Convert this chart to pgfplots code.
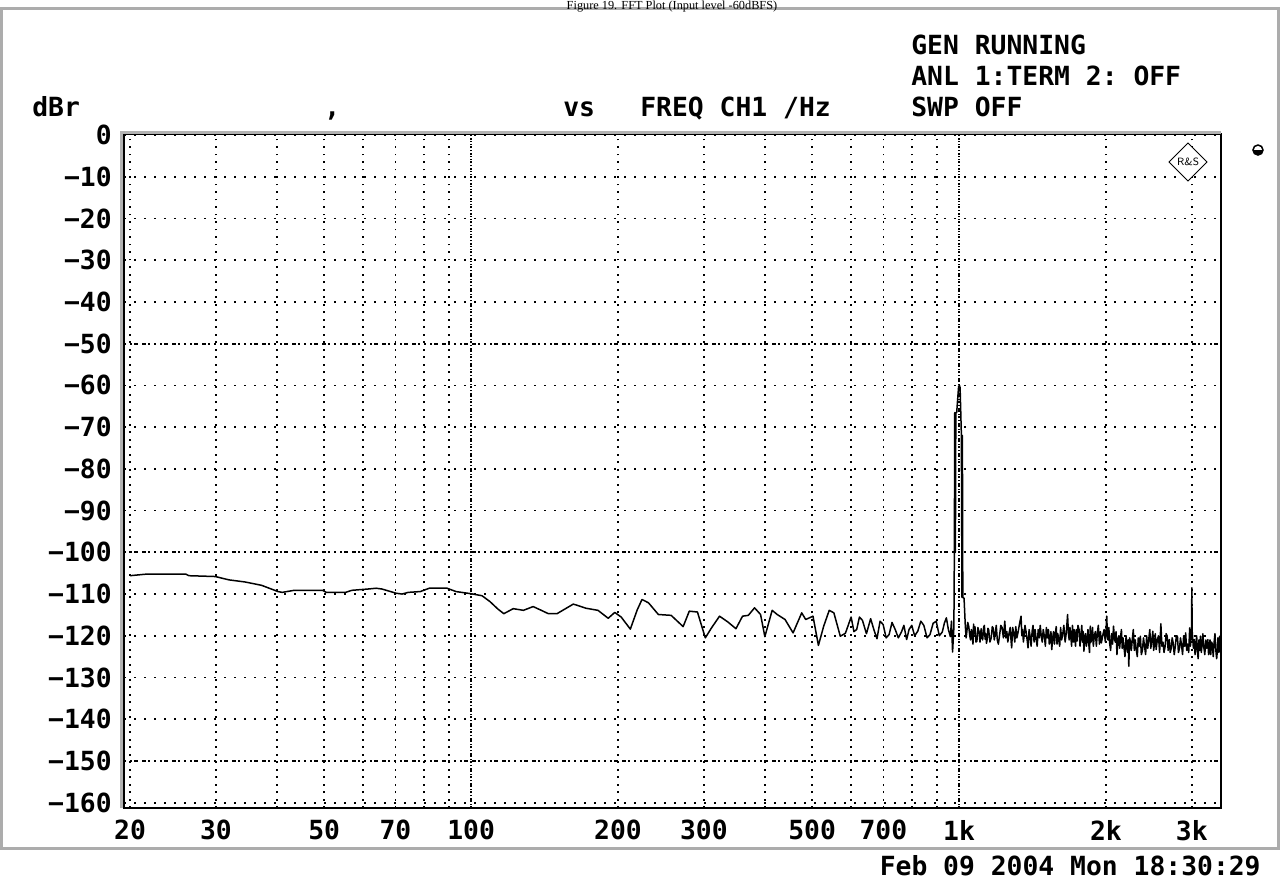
\documentclass[border=0pt]{standalone}
\usepackage{pgfplots}
\pgfplotsset{compat=1.18}
\usepackage{fontspec}
\setmonofont{DejaVu Sans Mono}
\newfontfamily\titlefont{Liberation Serif}
\newcommand\rsfont{\fontsize{15}{18}\selectfont\ttfamily\bfseries}

\begin{document}
\begin{tikzpicture}
\fill[white] (0,0) rectangle (256.6mm,176mm);

\begin{axis}[
  at={(24.8mm,14.4mm)}, anchor=south west,
  scale only axis, width=219.4mm, height=134.8mm,
  xmode=log, xmin=19.44, xmax=3443,
  ymin=-161.27, ymax=0.25,
  axis line style={line width=0.4mm},
  tick style={draw=none},
  xtick={20,30,40,50,60,70,80,90,100,200,300,400,500,600,700,800,900,1000,2000,3000},
  xticklabels={20,30,,50,,70,,,100,200,300,,500,,700,,,1k,2k,3k},
  ytick={0,-10,-20,-30,-40,-50,-60,-70,-80,-90,-100,-110,-120,-130,-140,-150,-160},
  yticklabels={0,−10,−20,−30,−40,−50,−60,−70,−80,−90,−100,−110,−120,−130,−140,−150,−160},
  minor xtick={},
  tick label style={font=\rsfont},
  xticklabel style={anchor=north, inner sep=0pt, yshift=-2.4mm},
  yticklabel style={anchor=east, inner sep=0pt, xshift=-2.4mm},
  xmajorgrids, ymajorgrids,
  x grid style={black, line width=0.35mm, dash pattern=on 0.35mm off 1.15mm},
  y grid style={black, line width=0.35mm, dash pattern=on 0.35mm off 1.65mm},
]
% denser decade / 50 dB grid lines
\draw[black, line width=0.3mm, dash pattern=on 0.3mm off 0.3mm]
  (axis cs:100,-161.27) -- (axis cs:100,0.25)
  (axis cs:1000,-161.27) -- (axis cs:1000,0.25);
\draw[black, line width=0.35mm, dash pattern=on 0.35mm off 0.85mm]
  (axis cs:19.44,-50) -- (axis cs:3443,-50)
  (axis cs:19.44,-100) -- (axis cs:3443,-100)
  (axis cs:19.44,-150) -- (axis cs:3443,-150);

\addplot[black, line width=0.3mm, line join=round] coordinates {
(20,-105.6) (21.7,-105.2) (26.0,-105.2) (26.4,-105.6) (29.9,-105.8)
(31.9,-106.6) (34.4,-107.1) (37.2,-107.9) (40.2,-109.4) (41.0,-109.6)
(43.4,-109.1) (49.6,-109.1) (50.5,-109.6) (55.3,-109.6) (57.0,-109.1)
(61.4,-108.8) (63.9,-108.6) (65.7,-108.8) (70.2,-109.8) (72.2,-110.0)
(74.3,-109.6) (78.7,-109.4) (82.1,-108.6) (89.3,-108.6) (93.1,-109.4)
(99.7,-109.9) (105.3,-110.4) (109.3,-111.8) (113.5,-113.6) (116.7,-114.7)
(122,-113.5) (128,-113.9) (134,-113.0) (138.7,-113.8) (144,-114.7)
(150,-114.7) (162,-112.4) (172,-113.4) (182,-113.9) (191,-115.8)
(197,-114.4) (203,-115.5) (212,-118.4) (219,-113.8) (224,-111.3)
(231,-112.1) (242,-114.9) (257,-115.1) (272,-117.8) (280,-114.1)
(291,-114.3) (302,-120.5) (311,-118.1) (323,-115.3) (336,-116.7)
(349,-118.3) (360,-115.3) (370,-115.1) (381,-113.3) (392,-114.9)
(400,-120.2) (414,-113.9) (424,-114.9) (440,-116.1) (457,-119.3)
(476,-114.5) (485,-116.1) (502,-115.3) (515,-122.3) (528,-117.7)
(542,-113.9) (554,-114.5) (571,-120.1) (585,-119.4) (601,-115.5)
(609,-119.0) (617,-118.5) (625,-115.5) (634,-116.3) (646,-119.5)
(659,-115.9) (669,-118.5) (679,-120.7) (689,-116.5) (699,-117.3)
(709,-120.5) (719,-119.7) (729,-116.8) (740,-118.5) (751,-120.5)
(762,-119.1) (771,-117.5) (781,-120.9) (790,-118.5) (800,-117.5)
(811,-120.0) (823,-118.9) (835,-116.5) (847,-117.5) (860,-120.5)
(872,-119.7) (885,-117.0) (898,-116.5) (911,-120.0) (924,-119.1)
(933,-117.0) (942,-115.7) (951,-118.5) (960,-120.2) (965,-116.5)
(970,-123.9) (976,-118) (978,-102) (980,-66.5) (983,-100)
(985,-66.5) (989,-66.5) (994,-63) (998,-60.3) (1002,-60)
(1005,-60.5) (1008,-66) (1011,-71.7) (1014,-110.8) (1016,-72)
(1018,-110.8) (1024,-111) (1030,-117.5)
(1034,-120.5) (1037,-119.3) (1042,-116.8) (1047,-117.8) (1052,-120.0)
(1056,-121.0) (1060,-118.5) (1064,-120.1) (1068,-122.0) (1071,-117.2)
(1075,-119.5) (1078,-117.8) (1083,-121.5) (1088,-121.3) (1093,-118.0)
(1099,-119.0) (1104,-121.5) (1110,-118.3) (1114,-120.5) (1118,-121.0)
(1123,-118.0) (1127,-117.5) (1131,-120.8) (1135,-119.5) (1138,-121.8)
(1142,-120.9) (1146,-118.2) (1150,-118.5) (1157,-121.5) (1164,-120.5)
(1170,-117.8) (1175,-118.2) (1181,-121.0) (1187,-119.3) (1192,-117.5)
(1198,-121.0) (1204,-122.0) (1210,-120.1) (1218,-117.5) (1225,-118.0)
(1233,-120.5) (1241,-116.5) (1247,-120.5) (1253,-119.0) (1259,-121.5)
(1265,-119.7) (1273,-118.0) (1278,-121.0) (1282,-122.9) (1288,-118.0)
(1295,-119.5) (1301,-121.5) (1307,-117.8) (1314,-120.5) (1322,-119.0)
(1331,-117.0) (1340,-115.3) (1345,-120.0) (1350,-118.5) (1355,-121.5)
(1359,-120.1) (1365,-117.5) (1372,-119.0) (1379,-121.0) (1385,-122.9)
(1392,-118.5) (1398,-120.0) (1405,-122.5) (1412,-118.9) (1418,-117.5)
(1425,-121.5) (1432,-118.5) (1439,-120.9) (1446,-122.5) (1453,-118.5)
(1460,-120.5) (1467,-117.5) (1474,-120.0) (1481,-121.5) (1488,-118.5)
(1496,-120.1) (1503,-122.5) (1510,-118.0) (1518,-120.5) (1525,-118.5)
(1531,-122.0) (1537,-121.0) (1543,-119.0) (1549,-123.3) (1556,-120.5)
(1562,-119.0) (1569,-122.0) (1576,-119.3) (1582,-117.8) (1588,-122.0)
(1594,-119.5) (1600,-120.9) (1608,-122.5) (1615,-118.0) (1623,-121.0)
(1631,-119.7) (1640,-117.5) (1650,-121.5) (1660,-119.0) (1669,-114.9)
(1676,-119.5) (1682,-121.0) (1688,-118.0) (1695,-120.1) (1701,-122.5)
(1708,-117.5) (1715,-121.5) (1721,-118.5) (1727,-120.5) (1733,-122.5)
(1739,-118.5) (1745,-121.3) (1753,-117.5) (1762,-118.5) (1770,-122.5)
(1779,-119.3) (1785,-117.5) (1791,-121.5) (1797,-119.0) (1803,-123.7)
(1810,-120.5) (1817,-119.5) (1824,-122.5) (1831,-120.9) (1838,-118.5)
(1845,-122.0) (1851,-124.0) (1858,-117.7) (1865,-121.5) (1871,-120.5)
(1878,-118.0) (1885,-122.5) (1894,-120.0) (1903,-119.0) (1912,-122.5)
(1921,-119.3) (1930,-117.5) (1940,-122.0) (1949,-119.0) (1958,-121.7)
(1970,-120.0) (1983,-118.5) (1995,-121.5) (2008,-115.3) (2014,-120.0)
(2020,-121.0) (2028,-118.0) (2035,-121.7) (2045,-123.5) (2054,-119.5)
(2064,-122.0) (2073,-117.7) (2082,-120.5) (2090,-121.5) (2098,-119.0)
(2107,-124.5) (2116,-121.0) (2125,-120.0) (2134,-123.0) (2144,-120.1)
(2152,-118.5) (2160,-123.0) (2168,-120.5) (2177,-122.5) (2188,-125.0)
(2200,-120.0) (2208,-122.5) (2215,-124.0) (2222,-121.0) (2228,-127.3)
(2237,-120.5) (2246,-121.5) (2255,-123.5) (2265,-120.9) (2276,-118.5)
(2287,-123.5) (2297,-121.0) (2308,-123.3) (2319,-125.0) (2330,-120.5)
(2341,-122.5) (2353,-120.1) (2364,-124.5) (2376,-123.5) (2388,-120.5)
(2400,-122.5) (2412,-124.5) (2424,-120.0) (2436,-123.0) (2448,-120.9)
(2460,-118.5) (2472,-123.0) (2484,-121.0) (2496,-118.9) (2505,-123.5)
(2515,-122.0) (2525,-119.5) (2535,-123.3) (2549,-121.0) (2563,-120.0)
(2577,-124.0) (2592,-117.1) (2605,-122.5) (2618,-121.5) (2631,-124.0)
(2645,-122.5) (2657,-119.5) (2670,-120.0) (2683,-123.5) (2697,-120.9)
(2709,-124.0) (2722,-123.0) (2734,-120.5) (2747,-121.7) (2761,-124.5)
(2775,-122.5) (2789,-120.0) (2803,-120.1) (2816,-124.0) (2830,-123.0)
(2844,-120.5) (2859,-122.5) (2872,-124.5) (2886,-120.0) (2900,-122.5)
(2914,-119.3) (2928,-123.5) (2942,-122.0) (2956,-124.0) (2970,-118.1)
(2980,-122.5) (2988,-121.0) (2995,-119.5) (3000,-108.5) (3005,-119.0)
(3010,-120.0) (3022,-123.0) (3035,-120.9) (3046,-124.5) (3058,-122.5)
(3069,-120.0) (3080,-123.7) (3091,-125.5) (3103,-121.0) (3114,-123.5)
(3125,-120.1) (3137,-124.0) (3150,-122.0) (3161,-119.5) (3173,-122.5)
(3189,-124.5) (3205,-121.0) (3220,-123.0) (3236,-120.9) (3247,-124.5)
(3258,-123.5) (3269,-121.0) (3280,-124.5) (3293,-121.5) (3306,-122.0)
(3319,-125.0) (3332,-121.7) (3346,-119.5) (3360,-123.5) (3373,-125.5)
(3386,-123.3) (3393,-120.5) (3400,-121.0) (3410,-124.0) (3420,-120.1)
(3432,-123.5) (3443,-122.5)
};
\end{axis}

\begin{scope}[x=0.2mm, y=0.2mm]
  % outer frame
  \draw[gray!65, line width=0.6mm] (2,32) rectangle (1279,871.5);
  % sunken edge of the plot box
  \draw[gray!60, line width=0.6mm] (121.5,72) -- (121.5,747.5) -- (1221,747.5);
  % header texts
  \node[anchor=base west, inner sep=0pt, font=\rsfont] at (32,764) {dBr};
  \node[anchor=base west, inner sep=0pt, font=\rsfont] at (324,764) {,};
  \node[anchor=base west, inner sep=0pt, font=\rsfont] at (563,764) {vs};
  \node[anchor=base west, inner sep=0pt, font=\rsfont] at (640,764) {FREQ CH1 /Hz};
  \node[anchor=base west, inner sep=0pt, font=\rsfont] at (911,764) {SWP OFF};
  \node[anchor=base west, inner sep=0pt, font=\rsfont] at (911,795) {ANL 1:TERM 2: OFF};
  \node[anchor=base west, inner sep=0pt, font=\rsfont] at (911,826) {GEN RUNNING};
  \node[anchor=base east, inner sep=0pt, font=\rsfont] at (1261,5) {Feb 09 2004 Mon 18:30:29};
  % logo
  \draw[black, line width=0.2mm, fill=white] (1188,737) -- (1207,718) -- (1188,699) -- (1169,718) -- cycle;
  \node[font=\fontsize{6}{6}\selectfont\sffamily] at (1188,718) {R\&S};
  % marker symbol
  \draw[black, line width=0.3mm, fill=white] (1258,730) circle (5);
  \fill[black] (1253,730) arc (180:360:5) -- cycle;
  % title
  \node[anchor=base, inner sep=0pt, font=\titlefont\fontsize{7}{8}\selectfont] at (672,870.5) {Figure 19. FFT Plot (Input level -60dBFS)};
\end{scope}

\pgfresetboundingbox
\useasboundingbox (0,0) rectangle (256.6mm,176mm);
\end{tikzpicture}
\end{document}
